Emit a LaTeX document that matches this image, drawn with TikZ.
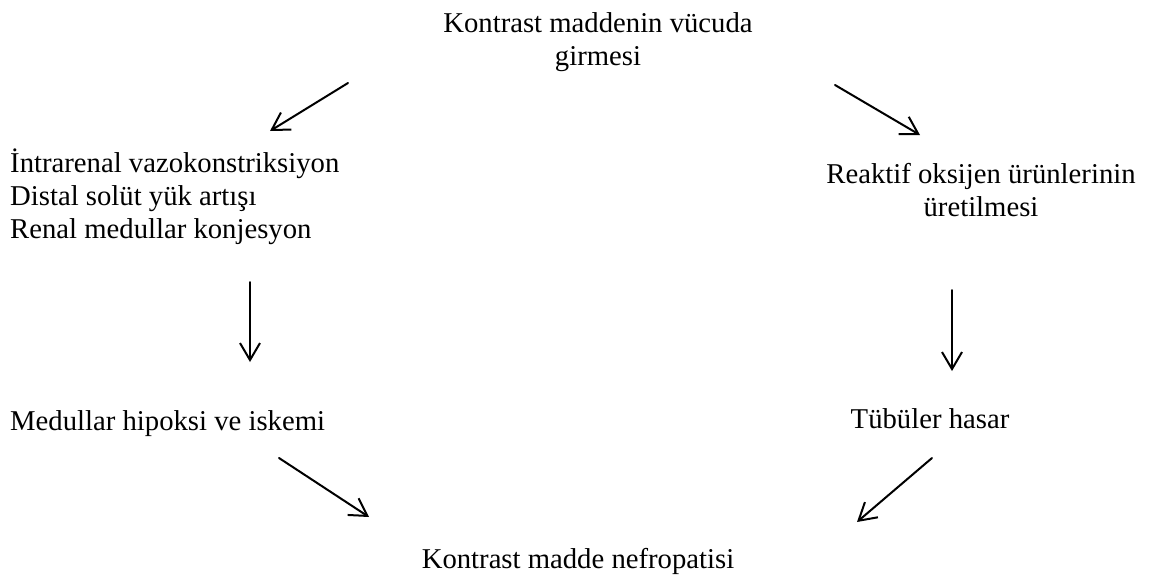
\documentclass[tikz,border=0pt]{standalone}
\usepackage{fontspec}
\setmainfont{Liberation Serif}
\usetikzlibrary{arrows.meta}
\tikzset{
  lbl/.style={inner sep=0pt, font=\fontsize{28.7}{33}\selectfont},
  arr/.style={-{Straight Barb[length=17pt,width=20pt]}, line width=2pt, line cap=round, line join=round}
}
\begin{document}
\begin{tikzpicture}[x=1pt,y=-1pt]
\useasboundingbox (0,0) rectangle (1151,581);
% base anchor sits on the last line
\node[lbl, align=center, anchor=base] (kmv) at (598,65) {Kontrast maddenin vücuda\\girmesi};
\node[lbl, align=left, anchor=base west] (ivk) at (10,238) {İntrarenal vazokonstriksiyon\\Distal solüt yük artışı\\Renal medullar konjesyon};
\node[lbl, align=center, anchor=base] (rou) at (981,216) {Reaktif oksijen ürünlerinin\\üretilmesi};
\node[lbl, anchor=base west] (mhi) at (10,430) {Medullar hipoksi ve iskemi};
\node[lbl, anchor=base] (tha) at (930,428) {Tübüler hasar};
\node[lbl, anchor=base] (kmn) at (578,568) {Kontrast madde nefropatisi};
% arrow ends
\coordinate (a1) at (348,83);  \coordinate (b1) at (270,131);
\coordinate (a2) at (835,85);  \coordinate (b2) at (920,135);
\coordinate (a3) at (250,282); \coordinate (b3) at (250,362);
\coordinate (a4) at (952,290); \coordinate (b4) at (952,371);
\coordinate (a5) at (279,458); \coordinate (b5) at (369,517);
\coordinate (a6) at (932,458); \coordinate (b6) at (857,522);
\draw[arr] (a1) -- (b1);
\draw[arr] (a2) -- (b2);
\draw[arr] (a3) -- (b3);
\draw[arr] (a4) -- (b4);
\draw[arr] (a5) -- (b5);
\draw[arr] (a6) -- (b6);
\end{tikzpicture}
\end{document}
